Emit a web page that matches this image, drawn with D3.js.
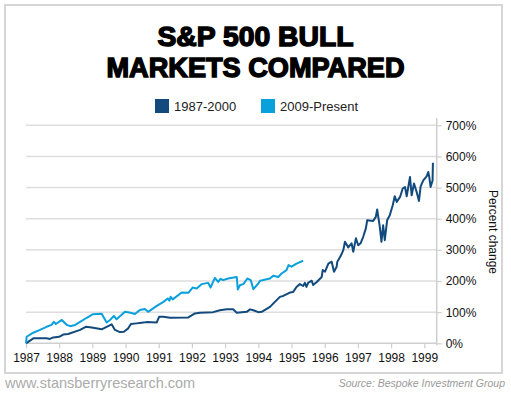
<!DOCTYPE html>
<html>
<head>
<meta charset="utf-8">
<script src="https://cdn.jsdelivr.net/npm/d3@7"></script>
<style>
  body { margin: 0; background: #fff; }
  svg { display: block; font-family: "Liberation Sans", Arial, sans-serif; }
</style>
</head>
<body>
<script>
// 1987-2000 bull market (dark line), x in "years" as labelled on the chart
var oldYears = [1987.00, 1987.22, 1987.62, 1987.72, 1987.82, 1988.00, 1988.12, 1988.27, 1988.63, 1988.80,
    1988.98, 1989.28, 1989.43, 1989.58, 1989.68, 1989.83, 1989.95, 1990.08, 1990.16, 1990.33,
    1990.48, 1990.63, 1990.94, 1991.01, 1991.14, 1991.34, 1991.89, 1992.09, 1992.24, 1992.64,
    1992.84, 1993.05, 1993.24, 1993.35, 1993.65, 1993.75, 1993.85, 1994.00, 1994.10, 1994.35,
    1994.65, 1994.75, 1994.95, 1995.05, 1995.15, 1995.25, 1995.35, 1995.40, 1995.45, 1995.50,
    1995.61, 1995.65, 1995.76, 1995.91, 1995.94, 1996.01, 1996.11, 1996.21, 1996.28, 1996.36,
    1996.38, 1996.48, 1996.56, 1996.61, 1996.71, 1996.81, 1996.86, 1996.94, 1997.01, 1997.08,
    1997.16, 1997.24, 1997.28, 1997.46, 1997.54, 1997.58, 1997.66, 1997.71, 1997.76, 1997.81,
    1997.88, 1997.96, 1998.05, 1998.11, 1998.17, 1998.27, 1998.35, 1998.42, 1998.47, 1998.57,
    1998.62, 1998.69, 1998.77, 1998.84, 1998.89, 1998.97, 1999.07, 1999.12, 1999.15, 1999.19,
    1999.25, 1999.26];
var oldValues = [0, 16, 16, 14, 19, 21, 28, 30, 43, 53,
    51, 45, 53, 61, 43, 36, 37, 48, 62, 64,
    66, 68, 67, 85, 85, 82, 83, 96, 98, 100,
    106, 109, 109, 98, 101, 109, 106, 100, 101, 117,
    149, 152, 163, 165, 181, 190, 184, 194, 181, 194,
    201, 187, 197, 213, 235, 230, 256, 262, 230, 246,
    262, 280, 299, 326, 308, 321, 294, 337, 315, 321,
    342, 369, 395, 393, 406, 430, 374, 326, 379, 331,
    395, 411, 443, 472, 454, 470, 497, 502, 472, 534,
    475, 513, 486, 457, 504, 523, 536, 550, 534, 502,
    523, 580];

// 2009-present bull market (light line)
var newYears = [1987.00, 1987.02, 1987.22, 1987.42, 1987.62, 1987.77, 1987.84, 1987.90, 1988.08, 1988.23,
    1988.33, 1988.48, 1988.63, 1988.83, 1989.01, 1989.28, 1989.43, 1989.53, 1989.65, 1989.73,
    1989.98, 1990.15, 1990.28, 1990.43, 1990.58, 1990.68, 1990.94, 1991.14, 1991.27, 1991.32,
    1991.36, 1991.42, 1991.69, 1991.89, 1992.02, 1992.14, 1992.29, 1992.49, 1992.56, 1992.69,
    1992.79, 1992.86, 1992.94, 1993.09, 1993.35, 1993.38, 1993.45, 1993.55, 1993.67, 1993.77,
    1993.85, 1994.00, 1994.05, 1994.15, 1994.35, 1994.45, 1994.60, 1994.70, 1994.85, 1994.91,
    1995.00, 1995.15, 1995.35];
var newValues = [0, 21, 34, 43, 53, 59, 69, 62, 75, 59,
    55, 59, 69, 82, 93, 95, 67, 75, 88, 77,
    101, 98, 94, 107, 110, 101, 120, 133, 144, 137,
    149, 141, 163, 162, 179, 176, 190, 194, 179, 210,
    197, 207, 203, 208, 213, 173, 187, 190, 208, 203,
    174, 192, 201, 203, 208, 217, 213, 224, 235, 251,
    246, 256, 265];

var yearTicks = [1987, 1988, 1989, 1990, 1991, 1992, 1993, 1994, 1995, 1996, 1997, 1998, 1999];
var pctTicks = [0, 100, 200, 300, 400, 500, 600, 700];
var seriesNames = ["1987-2000", "2009-Present"];
var seriesColors = ["#124a7d", "#0aa0dc"];

var W = 511, H = 394;
var svg = d3.select("body").append("svg")
    .attr("width", W)
    .attr("height", H);

// outer frame
svg.append("rect")
    .attr("x", 5).attr("y", 5)
    .attr("width", 497).attr("height", 368)
    .attr("fill", "none")
    .attr("stroke", "#d6d6d6")
    .attr("stroke-width", 2);

// title
var title = svg.append("g")
    .attr("font-weight", "bold")
    .attr("fill", "#000")
    .attr("stroke", "#000")
    .attr("stroke-width", 1.4)
    .attr("font-size", 27)
    .attr("text-anchor", "middle");
title.append("text").attr("x", 255.5).attr("y", 46)
    .attr("textLength", 196).attr("lengthAdjust", "spacingAndGlyphs")
    .text("S&P 500 BULL");
title.append("text").attr("x", 255.5).attr("y", 77)
    .attr("textLength", 298).attr("lengthAdjust", "spacingAndGlyphs")
    .text("MARKETS COMPARED");

// legend
var legendX = [155, 261];
var legend = svg.selectAll(".legend")
    .data(seriesNames)
    .enter().append("g")
    .attr("class", "legend")
    .attr("transform", function (d, i) { return "translate(" + legendX[i] + ",99)"; });
legend.append("rect")
    .attr("width", 14).attr("height", 14)
    .attr("fill", function (d, i) { return seriesColors[i]; });
legend.append("text")
    .attr("x", 19).attr("y", 11.5)
    .attr("font-size", 13)
    .attr("fill", "#222")
    .text(function (d) { return d; });

// scales
var x = d3.scaleLinear().domain([1987, 1999.353]).range([26, 436]);
var y = d3.scaleLinear().domain([0, 700]).range([343.3, 125.3]);

// gridlines
svg.append("g")
    .selectAll("line")
    .data(pctTicks.slice(1))
    .enter().append("line")
    .attr("x1", x(1987)).attr("x2", x.range()[1])
    .attr("y1", function (d) { return y(d); })
    .attr("y2", function (d) { return y(d); })
    .attr("stroke", "#dedede")
    .attr("stroke-width", 1.5);

// x axis
var xAxis = svg.append("g")
    .attr("transform", "translate(0," + y(0) + ")")
    .call(d3.axisBottom(x).tickValues(yearTicks).tickFormat(d3.format("d")).tickSize(5).tickPadding(5));
xAxis.select(".domain").attr("stroke", "#cfcfcf").attr("stroke-width", 1.5)
    .attr("d", "M" + x(1987) + ",0H" + x.range()[1]);
xAxis.selectAll(".tick line").attr("stroke", "#cfcfcf").attr("stroke-width", 1.2);
xAxis.selectAll("text").attr("font-size", 12).attr("fill", "#111")
    .attr("font-family", "Liberation Sans, Arial, sans-serif");

// y axis on the right
var yAxis = svg.append("g")
    .attr("transform", "translate(436.7,0)")
    .call(d3.axisRight(y).tickValues(pctTicks).tickFormat(function (d) { return d + "%"; }).tickSize(5).tickPadding(4));
yAxis.select(".domain").attr("stroke", "#cfcfcf").attr("stroke-width", 1.5)
    .attr("d", "M0,118V" + (y(0) + 2));
yAxis.selectAll(".tick line").attr("stroke", "#cfcfcf").attr("stroke-width", 1.2);
yAxis.selectAll("text").attr("font-size", 12).attr("fill", "#111")
    .attr("font-family", "Liberation Sans, Arial, sans-serif");

svg.append("text")
    .attr("transform", "translate(489,232) rotate(90)")
    .attr("text-anchor", "middle")
    .attr("font-size", 12)
    .attr("fill", "#111")
    .text("Percent change");

// lines
var line = d3.line()
    .x(function (d) { return x(d[0]); })
    .y(function (d) { return y(d[1]); });

var oldData = d3.zip(oldYears, oldValues);
var newData = d3.zip(newYears, newValues);

svg.append("path")
    .attr("d", line(oldData))
    .attr("fill", "none")
    .attr("stroke", seriesColors[0])
    .attr("stroke-width", 2)
    .attr("stroke-linejoin", "round");

svg.append("path")
    .attr("d", line(newData))
    .attr("fill", "none")
    .attr("stroke", seriesColors[1])
    .attr("stroke-width", 2)
    .attr("stroke-linejoin", "round");

// footer
svg.append("text")
    .attr("x", 5).attr("y", 388)
    .attr("font-size", 14.5)
    .attr("fill", "#ababab")
    .text("www.stansberryresearch.com");
svg.append("text")
    .attr("x", 505).attr("y", 387)
    .attr("text-anchor", "end")
    .attr("font-size", 10.5)
    .attr("font-style", "italic")
    .attr("fill", "#9a9a9a")
    .text("Source: Bespoke Investment Group");
</script>
</body>
</html>
